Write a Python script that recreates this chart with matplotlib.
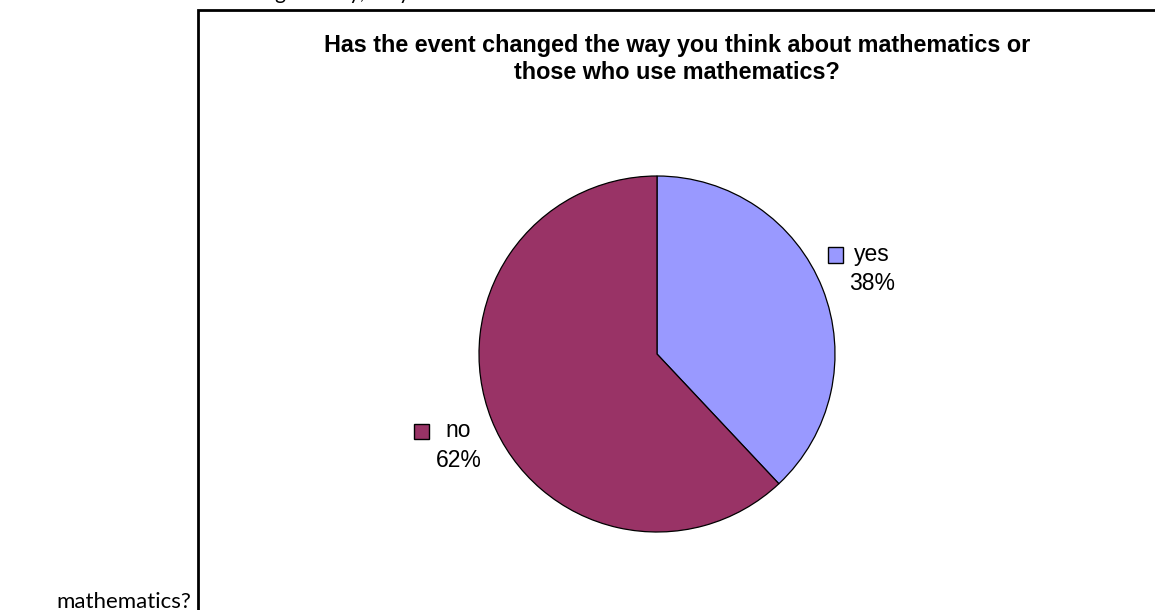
import matplotlib
matplotlib.use('Agg')
import matplotlib.pyplot as plt
import matplotlib.patches as mpatches
import numpy as np

labels = ['yes', 'no']
values = [38, 62]
colors = ['#9999FF', '#993366']
title = 'Has the event changed the way you think about mathematics or\nthose who use mathematics?'

W, H = 1155, 610
fig = plt.figure(figsize=(W / 100, H / 100), dpi=100)

# outer chart frame (runs off right/bottom edge)
frame = mpatches.Rectangle((198 / W, -0.01), 1.1, (H - 10) / H + 0.01,
                           transform=fig.transFigure, fill=False,
                           edgecolor='black', linewidth=2, clip_on=False)
fig.patches.append(frame)

# surrounding document text, cut off by the crop
fig.text(191 / W, 1.5 / H, 'mathematics?', ha='right', va='baseline',
         fontsize=16, family='Lato', color='black')
fig.text(197 / W, 1 + 1 / H, 'Following the day, do you', ha='left', va='baseline',
         fontsize=15, family='Lato', color='black')

fig.text(677 / W, 1 - 59 / H, title, ha='center', va='center',
         fontsize=16.8, fontweight='bold', family='Liberation Sans', linespacing=1.2)

cx, cy, r = 657, 354, 178
ax = fig.add_axes([(cx - r) / W, (H - cy - r) / H, 2 * r / W, 2 * r / H])
wedges, _ = ax.pie(values, colors=colors, startangle=90, counterclock=False,
                   wedgeprops=dict(edgecolor='black', linewidth=0.9))
ax.set_xlim(-1, 1)
ax.set_ylim(-1, 1)
ax.set_aspect('equal')
ax.axis('off')

total = sum(values)
label_dist = [1.3, 1.2]
label_dy = [0.0, -0.07]
for w, lab, v, c, d, dy in zip(wedges, labels, values, colors, label_dist, label_dy):
    ang = np.deg2rad((w.theta1 + w.theta2) / 2)
    x, y = d * np.cos(ang), d * np.sin(ang) + dy
    ax.text(x, y + 0.08, lab, ha='center', va='center', fontsize=16.5,
            family='Liberation Sans', clip_on=False)
    ax.text(x, y - 0.085, f'{v / total * 100:.0f}%', ha='center', va='center',
            fontsize=16.5, family='Liberation Sans', clip_on=False)
    ax.add_patch(mpatches.Rectangle((x - 0.25, y + 0.035), 0.085, 0.085,
                                    facecolor=c, edgecolor='black', linewidth=1,
                                    clip_on=False))

fig.savefig('out.png', dpi=100)
